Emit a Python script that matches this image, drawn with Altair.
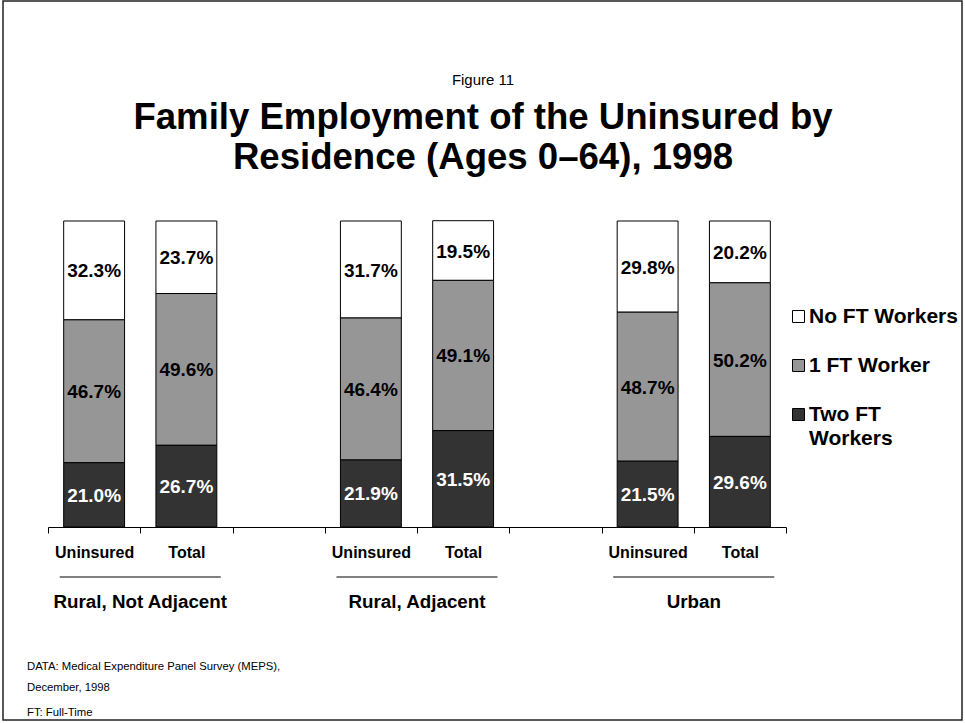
import altair as alt
import pandas as pd

# ---------------- data ----------------
groups = ["Rural, Not Adjacent", "Rural, Adjacent", "Urban"]
bar_types = ["Uninsured", "Total"]
series = ["No FT Workers", "1 FT Worker", "Two FT Workers"]
colors = ["#ffffff", "#969696", "#333333"]
stack_order = {"Two FT Workers": 0, "1 FT Worker": 1, "No FT Workers": 2}

# bars in order: RNA-Uninsured, RNA-Total, RA-Uninsured, RA-Total, U-Uninsured, U-Total
no_ft = [32.3, 23.7, 31.7, 19.5, 29.8, 20.2]
one_ft = [46.7, 49.6, 46.4, 49.1, 48.7, 50.2]
two_ft = [21.0, 26.7, 21.9, 31.5, 21.5, 29.6]

fig_label = "Figure 11"
title_lines = ["Family Employment of the Uninsured by", "Residence (Ages 0\u201364), 1998"]
notes = ["DATA: Medical Expenditure Panel Survey (MEPS),", "December, 1998", "FT: Full-Time"]

FONT = "Liberation Sans"

# slots along x: two bars per group with an empty slot between groups
slots = []
for i, g in enumerate(groups):
    slots += [f"{g}|{b}" for b in bar_types]
    if i < len(groups) - 1:
        slots.append(f"gap{i}")

rows = []
j = 0
for g in groups:
    for b in bar_types:
        for s, vals in zip(series, [no_ft, one_ft, two_ft]):
            rows.append({"slot": f"{g}|{b}", "series": s, "value": vals[j],
                         "order": stack_order[s]})
        j += 1
df = pd.DataFrame(rows)

gdf = pd.DataFrame({
    "group": groups,
    "slot": [f"{g}|Uninsured" for g in groups],
    "slot2": [f"{g}|Total" for g in groups],
})

label_expr = "indexof(datum.label, '|') >= 0 ? split(datum.label, '|')[1] : ''"


def xenc(field="slot", **kw):
    return alt.X(
        f"{field}:N",
        sort=slots,
        scale=alt.Scale(domain=slots, paddingInner=0, paddingOuter=0),
        axis=alt.Axis(
            title=None, labelExpr=label_expr, labelAngle=0,
            labelFont=FONT, labelFontSize=16, labelFontWeight="bold",
            labelColor="black", labelPadding=11, tickBand="extent",
            tickSize=6, tickColor="black", domainColor="black",
            domainWidth=1, tickWidth=1, grid=False,
        ),
        **kw,
    )


base = alt.Chart(df).transform_stack(
    stack="value", groupby=["slot"], as_=["v0", "v1"],
    sort=[alt.SortField("order", order="ascending")],
)

bars = base.mark_bar(stroke="black", strokeWidth=1, width=alt.RelativeBandSize(0.66)).encode(
    x=xenc(),
    y=alt.Y("v0:Q", scale=alt.Scale(domain=[0, 100]), axis=None),
    y2="v1:Q",
    color=alt.Color(
        "series:N",
        scale=alt.Scale(domain=series, range=colors),
        legend=alt.Legend(
            title=None, orient="none", legendX=740, legendY=85,
            symbolType="square", symbolSize=144, symbolStrokeColor="black",
            symbolStrokeWidth=1, symbolOpacity=1,
            labelFont=FONT, labelFontSize=21, labelFontWeight="bold",
            labelColor="black", labelOffset=0, labelLimit=400, rowPadding=27,
            labelExpr="datum.label == 'Two FT Workers' ? ['Two FT', 'Workers'] : datum.label",
        ),
    ),
)

labels = base.transform_calculate(
    mid="(datum.v0 + datum.v1) / 2",
    txt="format(datum.value, '.1f') + '%'",
).mark_text(font=FONT, fontSize=19, fontWeight="bold", baseline="middle", dy=1).encode(
    x=xenc(),
    y=alt.Y("mid:Q", scale=alt.Scale(domain=[0, 100]), axis=None),
    text="txt:N",
    color=alt.condition(alt.datum.series == "Two FT Workers", alt.value("white"), alt.value("black")),
)

grule = alt.Chart(gdf).mark_rule(color="#808080", strokeWidth=2).encode(
    x=xenc("slot", bandPosition=0.127),
    x2=alt.X2("slot2:N", bandPosition=0.873),
    y=alt.value(356),
)

glabel = alt.Chart(gdf).mark_text(font=FONT, fontSize=18.8, fontWeight="bold",
                                  baseline="middle", color="black").encode(
    x=xenc("slot2", bandPosition=0),
    y=alt.value(381),
    text="group:N",
)

one = pd.DataFrame({"k": [0]})


def txt(t, x, y, size, weight="normal", align="center"):
    return alt.Chart(one).mark_text(text=t, font=FONT, fontSize=size, fontWeight=weight,
                                    align=align, baseline="middle", color="black").encode(
        x=alt.value(x), y=alt.value(y))


frame = alt.Chart(one).mark_rect(fillOpacity=0, stroke="#222222", strokeWidth=1.5).encode(
    x=alt.value(-45), x2=alt.value(914), y=alt.value(-220), y2=alt.value(499))

texts = [
    txt(fig_label, 435, 80 - 221, 15),
    txt(title_lines[0], 435, 118 - 221, 36.6, "bold"),
    txt(title_lines[1], 435, 158 - 221, 36.6, "bold"),
    txt(notes[0], -21, 667 - 221, 11.3, align="left"),
    txt(notes[1], -21, 688 - 221, 11.3, align="left"),
    txt(notes[2], -21, 713 - 221, 11.3, align="left"),
]

chart = alt.layer(frame, bars, labels, grule, glabel, *texts).properties(
    width=738, height=306,
    autosize=alt.AutoSizeParams(type="none"),
    padding={"left": 48, "top": 221, "right": 179, "bottom": 196},
).configure(
    font=FONT,
    background="white",
    style={"guide-label": {"lineHeight": 24}},
).configure_view(stroke=None)

chart.save("out.html", embed_options={"renderer": "svg", "actions": False})
